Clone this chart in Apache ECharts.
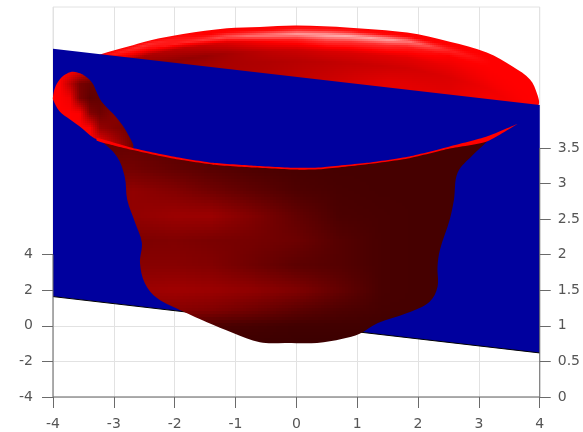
<!DOCTYPE html>
<html><head><meta charset="utf-8">
<style>html,body{margin:0;padding:0;background:#fff}#c{width:583px;height:432px}</style>
<script src="https://cdn.jsdelivr.net/npm/echarts@6/dist/echarts.min.js"></script></head>
<body><div id="c"></div>
<script>
// Tick labels
var xTicks = [-4,-3,-2,-1,0,1,2,3,4];
var leftTicks = [-4,-2,0,2,4];
var rightTicks = [0,0.5,1,1.5,2,2.5,3,3.5];

// Blue plane, [x, height on right axis]
var planeOutline = [[-4,4.894],[4,4.103],[4,0.619],[-4,1.411]];
var planeLower = [[-4,1.411],[4,0.619]];
var blue = 'rgb(0,0,158)';

// Back of the bowl rim: upper edge
var backEdge = [[-3.25,4.79],[-3.20,4.82],[-2.78,4.92],[-2.41,5.01],[-1.86,5.10],[-1.14,5.18],[-0.60,5.20],[0.01,5.22],[0.88,5.19],[1.82,5.12],[2.52,4.99],[3.13,4.84],[3.56,4.64],[3.84,4.46],[3.96,4.25],[3.98,4.10]];
var backHidden = [[3.8,4.0],[-3.25,4.4]];
// Shade: 0-255 red level, above 255 adds white. Columns = x, rows = depth under the edge
var backX = [-3.2,-2.5,-1.5,-0.5,0.5,1.5,2.5,3.2,3.98];
var backDepth = [0,0.05,0.12,0.2,0.35,0.5,0.7,1.0,1.4];
var backShade = [
 [255,255,255,255,255,255,255,255,255],
 [270,300,255,265,290,260,255,255,255],
 [230,255,310,380,430,420,290,255,255],
 [170,170,200,260,310,300,255,255,255],
 [140,140,150,190,215,225,235,250,255],
 [140,150,165,175,190,205,220,240,255],
 [150,160,170,180,200,225,225,250,255],
 [160,170,180,200,220,235,240,255,255],
 [160,170,180,200,220,235,240,255,255]
];

// Side flap on the left
var flapOutline = [[-4.00,4.22],[-3.97,4.34],[-3.89,4.46],[-3.80,4.53],[-3.69,4.57],[-3.60,4.56],[-3.51,4.53],[-3.36,4.42],[-3.28,4.28],[-3.20,4.15],[-2.95,3.92],[-2.78,3.71],[-2.69,3.50],[-3.28,3.62],[-3.56,3.80],[-3.72,3.90],[-3.89,4.01],[-4.00,4.18]];
var flapX = [-4,-3.89,-3.72,-3.56,-3.39,-3.23,-2.98,-2.69];
var flapV = [4.6,4.4,4.2,3.99,3.78,3.53];
var flapShade = [
 [255,255,255,240,190,150,130,120],
 [255,255,190,120,105,105,110,120],
 [255,255,240,125,95,100,120,130],
 [255,255,255,250,130,110,135,135],
 [255,255,255,255,250,150,130,115],
 [255,255,255,255,255,255,180,110]
];

// Front of the bowl
var frontOutline = [[-3.28,3.62],[-2.98,3.55],[-2.69,3.49],[-2.03,3.37],[-1.37,3.28],[-0.71,3.24],[0.01,3.21],[0.44,3.22],[1.16,3.28],[1.86,3.37],[2.52,3.51],[3.13,3.64],
 [3.13,3.59],[2.90,3.40],[2.65,3.15],[2.59,2.77],[2.52,2.49],[2.36,2.07],[2.32,1.83],[2.32,1.55],[2.19,1.34],[1.82,1.18],[1.34,1.04],[1.04,0.89],[0.76,0.82],[0.34,0.76],[-0.16,0.76],[-0.60,0.77],[-1.04,0.90],[-1.47,1.05],[-1.86,1.20],[-2.29,1.39],[-2.49,1.60],[-2.57,1.88],[-2.54,2.17],[-2.65,2.45],[-2.78,2.77],[-2.82,3.09],[-2.95,3.38],[-3.23,3.61]];
var frontX = [-3.2,-2.7,-2.0,-1.4,-0.75,0,0.7,1.4,2,2.7];
var frontV = [3.75,3.47,3.2,2.9,2.55,2.2,1.85,1.5,1.22,1.0,0.73];
var frontShade = [
 [100,100,80,75,70,70,70,70,70,70],
 [100,105,90,80,75,70,70,70,70,70],
 [115,115,100,88,78,72,70,70,70,70],
 [125,145,130,112,95,78,72,70,70,70],
 [135,145,155,155,130,98,75,72,70,70],
 [135,125,128,122,118,108,85,72,70,70],
 [135,135,135,130,112,92,85,72,70,70],
 [155,155,160,155,145,128,100,72,70,70],
 [125,135,135,128,112,92,78,70,70,70],
 [80,80,80,75,70,65,65,65,65,65],
 [60,60,60,60,60,60,60,60,60,60]
];

// Thin bright lip of the bowl
var lipUpper = [[-3.28,3.64],[-2.98,3.57],[-2.69,3.50],[-2.03,3.38],[-1.37,3.29],[-0.71,3.25],[0.01,3.22],[0.44,3.23],[1.16,3.29],[1.86,3.38],[2.52,3.52],[3.13,3.66],[3.64,3.84]];
var lipLower = [[3.64,3.84],[3.13,3.59],[2.52,3.49],[1.86,3.355],[1.16,3.27],[0.44,3.205],[0.01,3.195],[-0.71,3.225],[-1.37,3.265],[-2.03,3.35],[-2.69,3.47],[-2.98,3.53],[-3.28,3.60]];

// Dark axis lines
var axisBottom = [[-4,-4],[4,-4]];
var axisLeft = [[-4,-4],[-4,4]];
var axisRight = [[4,0],[4,3.5]];

var darkAxis = '#6a6a6a', lightGrid = '#e2e2e2', textCol = '#555';
var font = 'DejaVu Sans';

function locate(arr, t){
  var n = arr.length, asc = arr[n-1] > arr[0];
  var i = 0;
  while (i < n-2 && (asc ? t > arr[i+1] : t < arr[i+1])) i++;
  var f = (t-arr[i])/(arr[i+1]-arr[i]);
  return [i, Math.max(0, Math.min(1, f))];
}
function sample(m, a, b){
  var p = m[a[0]][b[0]]*(1-b[1]) + m[a[0]][b[0]+1]*b[1];
  var q = m[a[0]+1][b[0]]*(1-b[1]) + m[a[0]+1][b[0]+1]*b[1];
  return p*(1-a[1]) + q*a[1];
}
function shadeColor(s){
  if (s <= 255) return 'rgb(' + Math.round(s) + ',0,0)';
  var w = Math.round(s-255);
  return 'rgb(255,' + w + ',' + w + ')';
}
function edgeAt(edge, x){
  var xs = edge.map(function(p){return p[0];});
  var l = locate(xs, x);
  return edge[l[0]][1]*(1-l[1]) + edge[l[0]+1][1]*l[1];
}
function shadedPatch(outline, step, lookup){
  return function(params, api){
    var pts = outline.map(function(p){return api.coord(p);});
    var xs = pts.map(function(p){return p[0];}), ys = pts.map(function(p){return p[1];});
    var x0 = Math.floor(Math.min.apply(null,xs))-6, x1 = Math.ceil(Math.max.apply(null,xs))+6;
    var y0 = Math.floor(Math.min.apply(null,ys))-6, y1 = Math.ceil(Math.max.apply(null,ys))+6;
    var o = api.coord([0,0]), u = api.size([1,1]);
    var kids = [];
    for (var py = y0; py < y1; py += step){
      for (var px = x0; px < x1; px += step){
        var dx = (px+step/2-o[0])/u[0], dv = (o[1]-py-step/2)/u[1];
        kids.push({type:'rect', silent:true, shape:{x:px,y:py,width:step,height:step},
          style:{fill:shadeColor(lookup(dx,dv))}});
      }
    }
    return {type:'group', children:kids, clipPath:{type:'polygon', shape:{points:pts, smooth:0.35}}};
  };
}
function flatPolygon(points, fill, smooth){
  return function(params, api){
    return {type:'polygon', silent:true, shape:{points:points.map(function(p){return api.coord(p);}), smooth:smooth||0}, style:{fill:fill}};
  };
}
function customSeries(z, render){
  return {type:'custom', coordinateSystem:'cartesian2d', xAxisIndex:0, yAxisIndex:1, z:z, silent:true,
    clip:false, animation:false, data:[[0,0]], renderItem:render};
}
function lineSeries(data, yIdx, color, z){
  return {type:'line', data:data, xAxisIndex:0, yAxisIndex:yIdx, z:z, silent:true, clip:false, animation:false,
    symbol:'none', lineStyle:{color:color, width:1}};
}

var backRender = shadedPatch(backEdge.concat(backHidden), 2, function(x,v){
  var d = edgeAt(backEdge, Math.max(-3.25, Math.min(3.98, x))) - v;
  return sample(backShade, locate(backDepth,d), locate(backX,x));
});
var flapRender = shadedPatch(flapOutline, 2, function(x,v){
  return sample(flapShade, locate(flapV,v), locate(flapX,x));
});
var frontRender = shadedPatch(frontOutline, 3, function(x,v){
  return sample(frontShade, locate(frontV,v), locate(frontX,x));
});

var chart = echarts.init(document.getElementById('c'), null, {renderer:'canvas'});
chart.setOption({
  animation:false,
  backgroundColor:'#fff',
  grid:{left:53, right:43, top:7, bottom:35, show:true, borderColor:lightGrid, borderWidth:1, backgroundColor:'#fff'},
  xAxis:{type:'value', min:-4, max:4, interval:1,
    axisLine:{show:false, onZero:false},
    axisTick:{show:true, length:11, lineStyle:{color:darkAxis}, customValues:xTicks},
    axisLabel:{margin:20, fontFamily:font, fontSize:14, color:textCol, customValues:xTicks, hideOverlap:false},
    splitLine:{show:true, lineStyle:{color:lightGrid, width:1}}},
  yAxis:[
   {type:'value', position:'left', min:-4, max:17.92, interval:2,
    axisLine:{show:false, onZero:false},
    axisTick:{show:true, length:11, lineStyle:{color:darkAxis}, customValues:leftTicks},
    axisLabel:{margin:20, fontFamily:font, fontSize:14, color:textCol, customValues:leftTicks},
    splitLine:{show:true, lineStyle:{color:lightGrid, width:1}}},
   {type:'value', position:'right', min:0, max:5.48, interval:0.5,
    axisLine:{show:false, onZero:false},
    axisTick:{show:true, length:11, lineStyle:{color:darkAxis}, customValues:rightTicks},
    axisLabel:{margin:18, fontFamily:font, fontSize:14, color:textCol, customValues:rightTicks},
    splitLine:{show:false}}
  ],
  series:[
    customSeries(2, backRender),
    customSeries(3, flatPolygon(planeOutline, blue)),
    lineSeries(planeLower, 1, '#000', 4),
    customSeries(5, frontRender),
    customSeries(6, flapRender),
    customSeries(7, flatPolygon(lipUpper.concat(lipLower), '#ff0000', 0.2)),
    lineSeries(axisBottom, 0, darkAxis, 8),
    lineSeries(axisLeft, 0, darkAxis, 8),
    lineSeries(axisRight, 1, darkAxis, 8)
  ]
});
</script></body></html>
